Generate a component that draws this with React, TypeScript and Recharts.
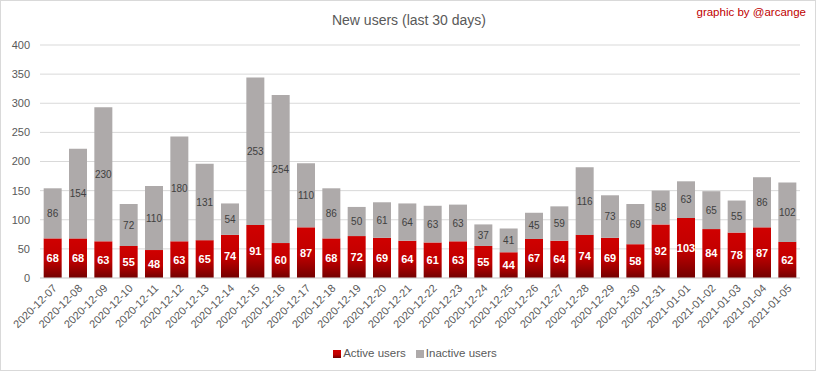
import React from 'react';
import { BarChart, Bar, XAxis, YAxis, CartesianGrid, Legend, LabelList } from 'recharts';

const dates = [
  '2020-12-07', '2020-12-08', '2020-12-09', '2020-12-10', '2020-12-11', '2020-12-12',
  '2020-12-13', '2020-12-14', '2020-12-15', '2020-12-16', '2020-12-17', '2020-12-18',
  '2020-12-19', '2020-12-20', '2020-12-21', '2020-12-22', '2020-12-23', '2020-12-24',
  '2020-12-25', '2020-12-26', '2020-12-27', '2020-12-28', '2020-12-29', '2020-12-30',
  '2020-12-31', '2021-01-01', '2021-01-02', '2021-01-03', '2021-01-04', '2021-01-05',
];
const activeUsers = [68, 68, 63, 55, 48, 63, 65, 74, 91, 60, 87, 68, 72, 69, 64, 61, 63, 55, 44, 67, 64, 74, 69, 58, 92, 103, 84, 78, 87, 62];
const inactiveUsers = [86, 154, 230, 72, 110, 180, 131, 54, 253, 254, 110, 86, 50, 61, 64, 63, 63, 37, 41, 45, 59, 116, 73, 69, 58, 63, 65, 55, 86, 102];
const yTicks = [0, 50, 100, 150, 200, 250, 300, 350, 400];

const data = dates.map((d, i) => ({ date: d, active: activeUsers[i], inactive: inactiveUsers[i] }));

const FONT = '"Liberation Sans", Arial, sans-serif';
const AXIS_COLOR = '#595959';

const XTick = (props: any) => {
  const { x, y, payload } = props;
  return (
    <g transform={`translate(${x + 5},${y + 3})`}>
      <text x={0} y={0} textAnchor="end" transform="rotate(-45)" fill={AXIS_COLOR} fontSize={11} fontFamily={FONT}>
        {payload.value}
      </text>
    </g>
  );
};

export default function App() {
  return (
    <div
      style={{
        position: 'absolute',
        left: 0,
        top: 0,
        width: 816,
        height: 371,
        boxSizing: 'border-box',
        border: '1px solid #d9d9d9',
        background: '#fff',
        fontFamily: FONT,
      }}
    >
      <div
        style={{
          position: 'absolute',
          left: 0,
          width: 816,
          top: 11,
          textAlign: 'center',
          fontSize: 14,
          color: AXIS_COLOR,
        }}
      >
        New users (last 30 days)
      </div>
      <div
        style={{
          position: 'absolute',
          right: 9,
          top: 5,
          fontSize: 11.5,
          color: '#c00000',
        }}
      >
        graphic by @arcange
      </div>
      <BarChart
        width={814}
        height={369}
        data={data}
        margin={{ top: 44, right: 15, bottom: 8, left: -1 }}
        barCategoryGap="14.5%"
        style={{ position: 'absolute', left: 0, top: 0 }}
      >
        <defs>
          <linearGradient id="redGrad" x1="0" y1="0" x2="0" y2="1">
            <stop offset="0%" stopColor="#d00000" />
            <stop offset="55%" stopColor="#c00000" />
            <stop offset="100%" stopColor="#720000" />
          </linearGradient>
        </defs>
        <CartesianGrid vertical={false} stroke="#d9d9d9" />
        <XAxis
          dataKey="date"
          interval={0}
          tick={<XTick />}
          tickLine={false}
          axisLine={{ stroke: '#d9d9d9' }}
          height={66}
        />
        <YAxis
          domain={[0, 400]}
          ticks={yTicks}
          width={40}
          tickLine={false}
          axisLine={false}
          tick={{ fill: AXIS_COLOR, fontSize: 11, fontFamily: FONT }}
          tickMargin={4}
        />
        <Legend
          verticalAlign="bottom"
          align="center"
          iconType="square"
          iconSize={8}
          wrapperStyle={{ fontSize: 11.5, fontFamily: FONT, lineHeight: '18px', paddingLeft: 20 }}
          formatter={(value: string) => <span style={{ color: AXIS_COLOR, marginLeft: -2 }}>{value}</span>}
        />
        <Bar dataKey="active" name="Active users" stackId="a" fill="url(#redGrad)" legendType="square" isAnimationActive={false}>
          <LabelList dataKey="active" position="center" fill="#ffffff" fontSize={11} fontWeight="bold" fontFamily={FONT} />
        </Bar>
        <Bar dataKey="inactive" name="Inactive users" stackId="a" fill="#aeaaaa" isAnimationActive={false}>
          <LabelList dataKey="inactive" position="center" fill="#404040" fontSize={10} fontFamily={FONT} />
        </Bar>
      </BarChart>
    </div>
  );
}
